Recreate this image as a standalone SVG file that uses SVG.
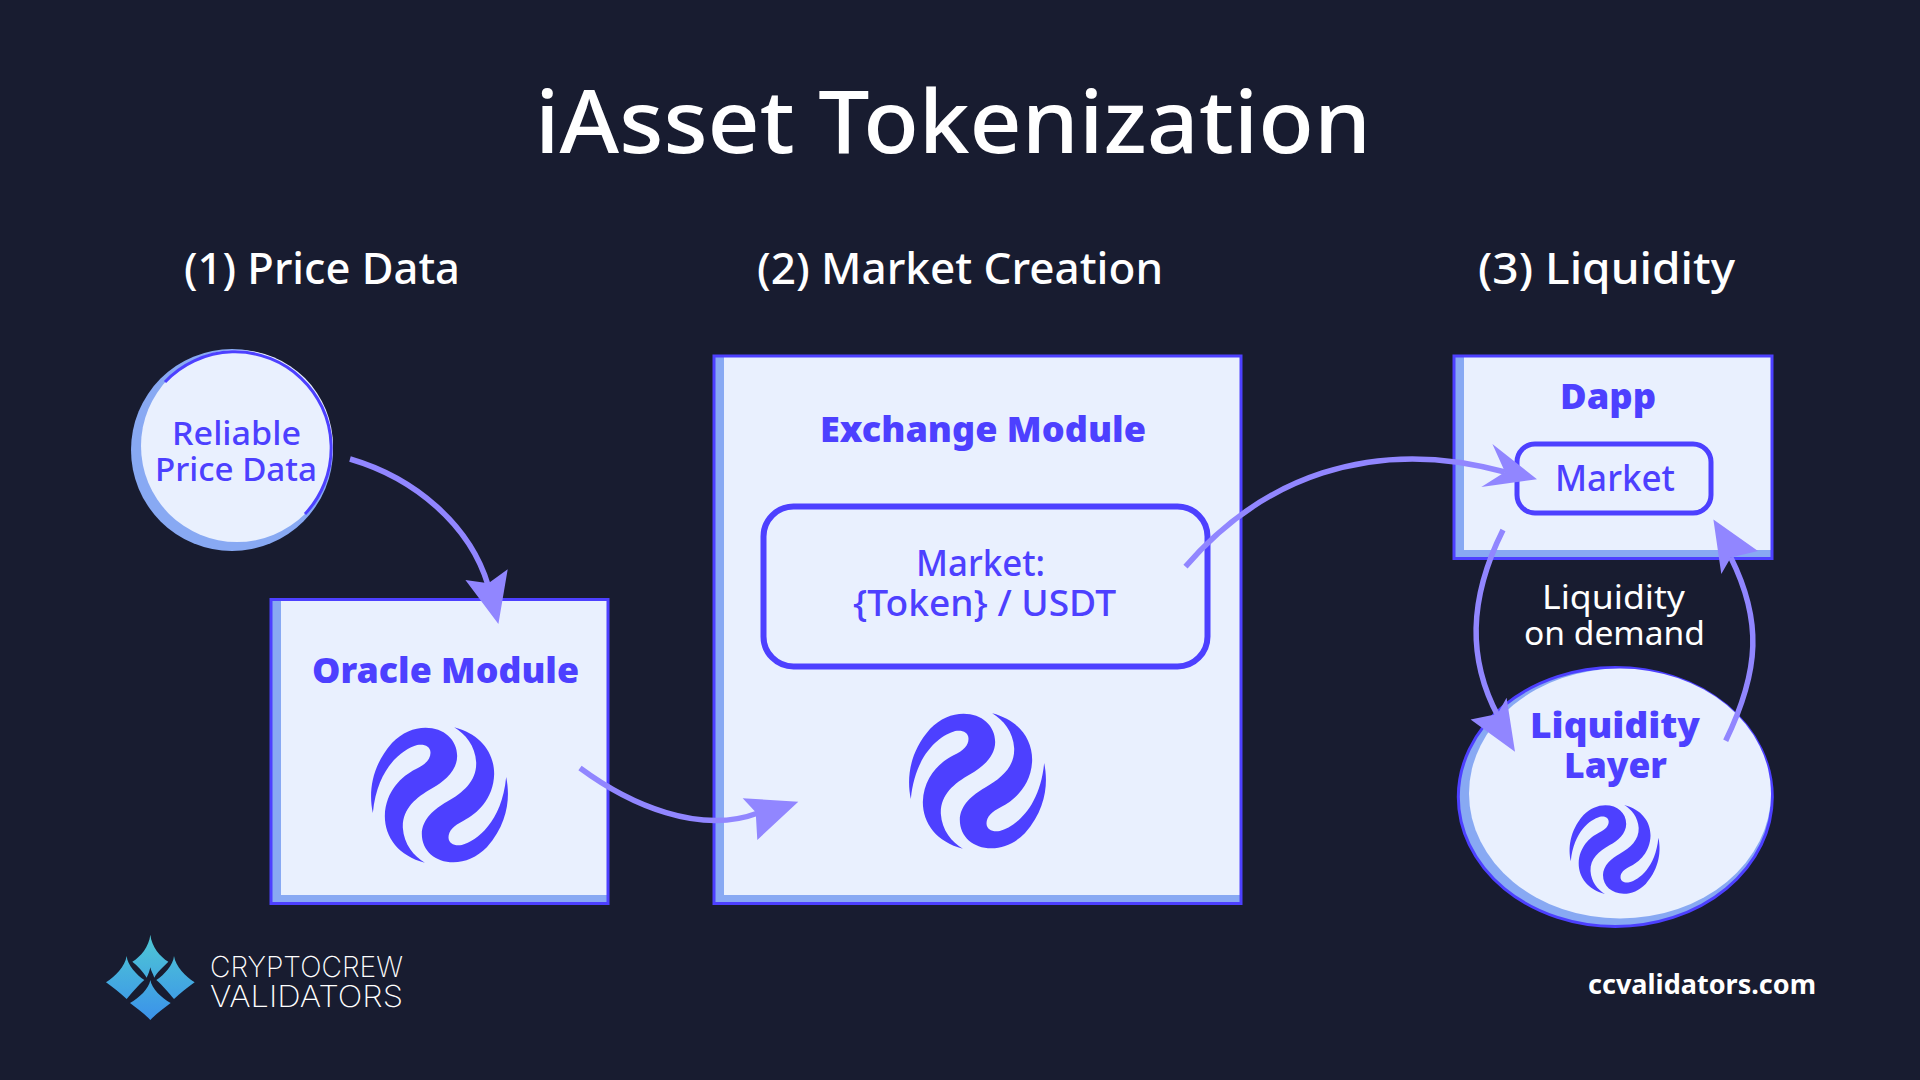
<svg xmlns="http://www.w3.org/2000/svg" xmlns:xlink="http://www.w3.org/1999/xlink" width="1920" height="1080" viewBox="0 0 1920 1080">
<style>
text{font-family:"Noto Sans","Open Sans","Liberation Sans",sans-serif}
.box{fill:#e9f0fe}
.edge{fill:none;stroke:#4d40ff;stroke-width:3}
.strip{fill:#88a9f3}
.inner{fill:none;stroke:#4d40ff}
.t{fill:#4d40ff;font-weight:500}
.b{fill:#4d40ff;font-weight:900}
.w{fill:#fff;font-weight:500}
.wire{fill:none;stroke:#9186ff;stroke-width:5.500}
.head{fill:#9186ff}
</style>
<defs>
<path id="half" d="M92,326 C80,270 84,190 150,115 C180,85 215,70 250,70 C305,70 345,105 345,155 C345,200 305,232 270,252 C220,280 180,315 182,370 C185,420 215,455 248,475 C170,455 128,400 128,335 C130,260 180,215 220,195 C250,180 265,165 265,145 C265,125 245,118 225,122 C180,135 105,190 92,326Z"/>
<g id="swirl" fill="#4d40ff"><use xlink:href="#half" href="#half" transform="translate(-292,-272)"/><use xlink:href="#half" href="#half" transform="rotate(180) translate(-292,-272)"/></g>
<linearGradient id="gem" gradientUnits="userSpaceOnUse" x1="0" y1="14" x2="0" y2="270"><stop offset="0" stop-color="#4fc8d4"/><stop offset="1" stop-color="#3b92ea"/></linearGradient>
</defs>
<rect width="1920" height="1080" fill="#181c30"/>
<g id="title"><text x="535" y="153" font-size="87" textLength="836" lengthAdjust="spacingAndGlyphs" class="w">iAsset Tokenization</text></g>
<g id="headings">
<text x="184" y="284" font-size="43" textLength="276" lengthAdjust="spacingAndGlyphs" class="w">(1) Price Data</text>
<text x="757" y="284" font-size="43" textLength="406" lengthAdjust="spacingAndGlyphs" class="w">(2) Market Creation</text>
<text x="1478" y="284" font-size="43" textLength="257" lengthAdjust="spacingAndGlyphs" class="w">(3) Liquidity</text>
</g>
<g id="node-price-data">
<circle cx="232" cy="450" r="101" class="strip"/>
<circle cx="237" cy="446" r="96" class="box"/>
<path d="M165,382 A96,96 0 0 1 305,514" class="edge"/>
<text x="172" y="445" font-size="32" textLength="129" lengthAdjust="spacingAndGlyphs" class="t">Reliable</text>
<text x="155" y="481" font-size="32" textLength="162" lengthAdjust="spacingAndGlyphs" class="t">Price Data</text>
</g>
<g id="node-oracle">
<rect x="271" y="599.500" width="337" height="304" class="box"/>
<rect x="272" y="601" width="9" height="301" class="strip"/><rect x="272" y="895" width="335" height="7" class="strip"/>
<rect x="271" y="599.500" width="337" height="304" class="edge"/>
<text x="312" y="683" font-size="36" textLength="267" lengthAdjust="spacingAndGlyphs" class="b">Oracle Module</text>
<use xlink:href="#swirl" href="#swirl" transform="translate(439.500,795) scale(.33333)"/>
</g>
<g id="node-exchange">
<rect x="714" y="356" width="527" height="547.500" class="box"/>
<rect x="715" y="357" width="9" height="545" class="strip"/><rect x="715" y="895" width="525" height="7" class="strip"/>
<rect x="714" y="356" width="527" height="547.500" class="edge"/>
<text x="820" y="442" font-size="36" textLength="326" lengthAdjust="spacingAndGlyphs" class="b">Exchange Module</text>
<rect x="763.500" y="506.500" width="444" height="160" rx="30" stroke-width="6" class="inner"/>
<text x="916" y="576" font-size="36" textLength="129" lengthAdjust="spacingAndGlyphs" class="t">Market:</text>
<text x="853" y="616" font-size="36" textLength="263" lengthAdjust="spacingAndGlyphs" class="t">{Token} / USDT</text>
<use xlink:href="#swirl" href="#swirl" transform="translate(977.500,781) scale(.33333)"/>
</g>
<g id="node-dapp">
<rect x="1454" y="356" width="318" height="202.500" class="box"/>
<rect x="1455" y="357" width="9" height="200" class="strip"/><rect x="1455" y="550" width="316" height="7" class="strip"/>
<rect x="1454" y="356" width="318" height="202.500" class="edge"/>
<text x="1560" y="409" font-size="36" textLength="96" lengthAdjust="spacingAndGlyphs" class="b">Dapp</text>
<rect x="1517" y="444" width="194" height="69" rx="18" stroke-width="5" class="inner"/>
<text x="1555" y="491" font-size="36" textLength="120" lengthAdjust="spacingAndGlyphs" class="t">Market</text>
</g>
<g id="label-liquidity-on-demand">
<text x="1542" y="609" font-size="32" textLength="143" lengthAdjust="spacingAndGlyphs" class="w" style="font-weight:400">Liquidity</text>
<text x="1524" y="645" font-size="32" textLength="181" lengthAdjust="spacingAndGlyphs" class="w" style="font-weight:400">on demand</text>
</g>
<g id="node-liquidity-layer">
<ellipse cx="1615.300" cy="797" rx="157" ry="129.500" class="strip" stroke="#4d40ff" stroke-width="3"/>
<ellipse cx="1620" cy="793.500" rx="151" ry="125" class="box"/>
<text x="1530" y="738" font-size="36" textLength="170" lengthAdjust="spacingAndGlyphs" class="b">Liquidity</text>
<text x="1564" y="778" font-size="36" textLength="103" lengthAdjust="spacingAndGlyphs" class="b">Layer</text>
<use xlink:href="#swirl" href="#swirl" transform="translate(1614.600,849.500) scale(.219)"/>
</g>
<g id="connectors">
<path class="wire" d="M350,459 C415,478 470,525 488,585"/>
<polygon class="head" points="498.400,624 465.400,580 488.400,583.300 507.700,569.200"/>
<path class="wire" d="M580,768 C630,805 700,835 758,813"/>
<polygon class="head" points="798.300,801.700 742.700,798.300 755.700,812.300 757.300,840"/>
<path class="wire" d="M1185.500,566.600 C1260,480 1370,435 1505,472"/>
<polygon class="head" points="1537,479.300 1492.400,444 1505,472 1481.300,487"/>
<path class="wire" d="M1503,530 C1468,600 1468,660 1498,716"/>
<polygon class="head" points="1515,751.800 1470.600,719.600 1497.500,714 1506.600,697.800"/>
<path class="wire" d="M1725.700,740.700 C1760,670 1762,620 1730.800,557.400"/>
<polygon class="head" points="1713.400,519.500 1758,551 1730.800,557.400 1721.300,574"/>
</g>
<g id="footer">
<g transform="translate(100,930) scale(.33333)" fill="url(#gem)">
<path d="M151,14 C155,50 180,80 205,95 C190,110 170,128 163,143 C158,130 153,122 151,112 C149,122 145,133 140,143 C130,125 110,105 97,95 C122,80 147,50 151,14Z"/>
<path d="M80,78 C82,105 110,135 133,150 C115,165 95,190 80,207 C60,190 40,172 18,157 C45,140 75,110 80,78Z"/>
<path d="M222,78 C220,105 192,135 169,150 C187,165 207,190 222,207 C242,190 262,172 284,157 C257,140 227,110 222,78Z"/>
<path d="M151,150 C155,175 185,205 212,219 C190,235 165,255 151,270 C137,255 112,235 90,219 C117,205 147,175 151,150Z"/>
</g>
<text x="210" y="977" font-size="29" textLength="193" lengthAdjust="spacingAndGlyphs" fill="#fff" style="font-family:Inter,'Noto Sans',sans-serif;font-weight:200">CRYPTOCREW</text>
<text x="210" y="1007" font-size="30" textLength="193" lengthAdjust="spacingAndGlyphs" fill="#fff" style="font-family:Inter,'Noto Sans',sans-serif;font-weight:200">VALIDATORS</text>
<text x="1588" y="994" font-size="27" textLength="228" lengthAdjust="spacingAndGlyphs" fill="#fff" font-weight="700">ccvalidators.com</text>
</g>
</svg>
